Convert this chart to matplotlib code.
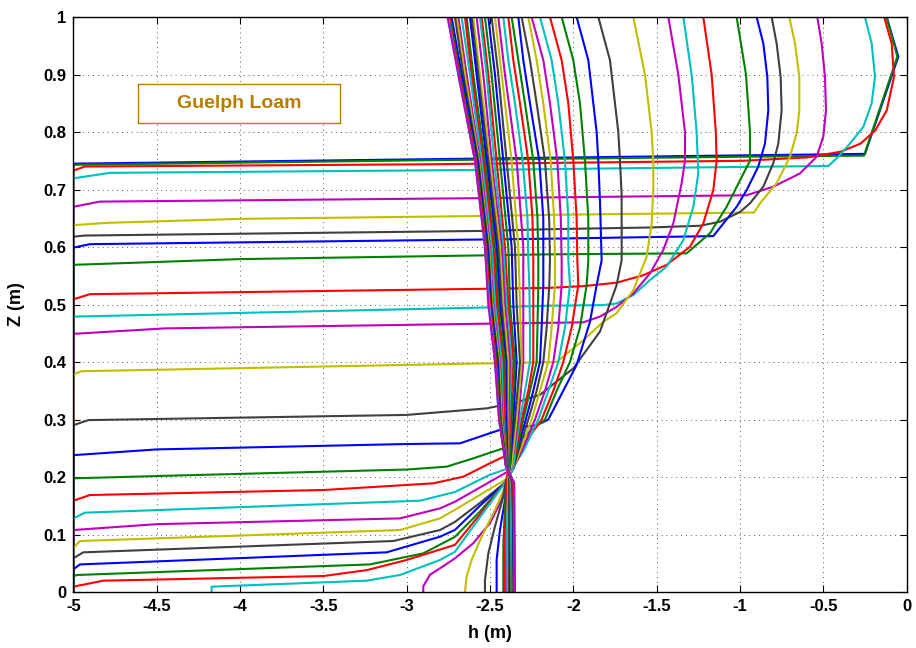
import matplotlib
matplotlib.use('Agg')
import matplotlib.pyplot as plt
from matplotlib.patches import Rectangle

plt.rcParams['font.family'] = ['Liberation Sans', 'DejaVu Sans']
plt.rcParams['axes.unicode_minus'] = False

# MATLAB (pre-2014) colour order: b g r c m y k
line_colors = [(0, 0, 1), (0, 0.5, 0), (1, 0, 0), (0, 0.75, 0.75),
               (0.75, 0, 0.75), (0.75, 0.75, 0), (0.25, 0.25, 0.25)]

x_ticks = [-5, -4.5, -4, -3.5, -3, -2.5, -2, -1.5, -1, -0.5, 0]
x_tick_labels = ['-5', '-4.5', '-4', '-3.5', '-3', '-2.5', '-2', '-1.5', '-1', '-0.5', '0']
y_ticks = [0, 0.1, 0.2, 0.3, 0.4, 0.5, 0.6, 0.7, 0.8, 0.9, 1]
y_tick_labels = ['0', '0.1', '0.2', '0.3', '0.4', '0.5', '0.6', '0.7', '0.8', '0.9', '1']

# profiles with a wetting front (curves 1..25): pressure head h (m) vs elevation z (m)
front_h = [
    [-0.12, -0.05, -0.25, -2.8, -5, -5],
    [-0.12, -0.056, -0.256, -1.0, -2.86, -5, -5],
    [-0.135, -0.09, -0.076, -0.119, -0.188, -0.276, -0.394, -0.59, -0.98, -2.84, -4.93, -5, -5],
    [-0.25, -0.21, -0.19, -0.21, -0.26, -0.34, -0.41, -0.47, -2.6, -4.78, -5, -5],
    [-0.536, -0.51, -0.49, -0.484, -0.50, -0.54, -0.64, -0.80, -0.96, -2.56, -4.84, -5, -5],
    [-0.704, -0.67, -0.644, -0.644, -0.66, -0.70, -0.78, -0.88, -0.916, -2.14, -2.54, -4.0, -4.8, -5, -5],
    [-0.81, -0.78, -0.756, -0.75, -0.77, -0.80, -0.86, -0.94, -1.0, -1.12, -1.24, -1.54, -2.14, -2.55, -4.93, -5, -5],
    [-0.90, -0.86, -0.836, -0.83, -0.85, -0.89, -0.96, -1.02, -1.16, -2.14, -4.9, -5, -5],
    [-1.02, -0.964, -0.94, -0.94, -1.0, -1.08, -1.18, -1.32, -2.14, -4.0, -5, -5],
    [-1.22, -1.17, -1.145, -1.14, -1.16, -1.22, -1.30, -1.44, -1.58, -1.74, -1.94, -2.14, -2.5, -4.9, -5, -5],
    [-1.34, -1.29, -1.26, -1.25, -1.28, -1.34, -1.44, -1.54, -1.64, -1.74, -1.82, -2.14, -2.5, -5, -5],
    [-1.43, -1.37, -1.33, -1.33, -1.35, -1.40, -1.46, -1.54, -1.64, -1.74, -1.84, -1.94, -2.45, -4.45, -5, -5],
    [-1.64, -1.57, -1.53, -1.52, -1.52, -1.53, -1.56, -1.64, -1.74, -1.82, -1.94, -2.10, -2.46, -4.95, -5, -5],
    [-1.85, -1.78, -1.73, -1.72, -1.71, -1.71, -1.74, -1.84, -2.0, -2.20, -2.36, -2.45, -2.52, -3.0, -4.91, -5, -5],
    [-1.98, -1.91, -1.86, -1.85, -1.84, -1.83, -1.86, -1.90, -1.98, -2.15, -2.22, -2.43, -2.68, -3.0, -4.5, -5, -5],
    [-2.07, -2.0, -1.96, -1.93, -1.91, -1.91, -1.92, -1.96, -2.02, -2.10, -2.17, -2.30, -2.42, -2.6, -2.76, -3.0, -4.5, -5, -5],
    [-2.14, -2.07, -2.03, -2.0, -1.98, -1.976, -1.97, -2.01, -2.06, -2.12, -2.19, -2.30, -2.42, -2.5, -2.66, -2.84, -3.5, -4.9, -5, -5],
    [-2.20, -2.13, -2.09, -2.05, -2.03, -2.03, -2.02, -2.05, -2.09, -2.15, -2.21, -2.30, -2.36, -2.42, -2.5, -2.71, -2.92, -4.93, -5, -5],
    [-2.25, -2.18, -2.14, -2.096, -2.075, -2.07, -2.07, -2.09, -2.12, -2.17, -2.23, -2.31, -2.36, -2.42, -2.71, -2.8, -3.04, -4.5, -5, -5],
    [-2.27, -2.22, -2.18, -2.136, -2.115, -2.11, -2.11, -2.13, -2.15, -2.20, -2.25, -2.32, -2.36, -2.41, -2.71, -2.8, -3.04, -4.96, -5, -5],
    [-2.31, -2.26, -2.22, -2.17, -2.145, -2.14, -2.144, -2.16, -2.18, -2.22, -2.27, -2.33, -2.36, -2.41, -2.56, -2.71, -2.8, -3.08, -4.94, -5, -5],
    [-2.33, -2.30, -2.26, -2.204, -2.18, -2.18, -2.18, -2.19, -2.20, -2.24, -2.285, -2.34, -2.36, -2.41, -2.56, -2.71, -2.8, -3.12, -4.96, -5, -5],
    [-2.37, -2.33, -2.29, -2.24, -2.215, -2.21, -2.21, -2.215, -2.22, -2.26, -2.30, -2.34, -2.36, -2.41, -2.56, -2.71, -2.9, -3.22, -4.98, -5, -5],
    [-2.39, -2.36, -2.32, -2.27, -2.245, -2.24, -2.24, -2.24, -2.24, -2.27, -2.31, -2.345, -2.36, -2.41, -2.56, -2.71, -3.0, -3.24, -3.5, -4.82, -5, -5],
    [-2.42, -2.39, -2.35, -2.304, -2.275, -2.27, -2.264, -2.26, -2.26, -2.29, -2.32, -2.35, -2.36, -2.41, -2.56, -2.71, -2.8, -3.04, -3.24, -4.17, -4.17],
]
front_z = [
    [1.0, 0.931, 0.762, 0.753, 0.745, 0.0],
    [1.0, 0.931, 0.759, 0.757, 0.751, 0.743, 0.0],
    [1.0, 0.954, 0.896, 0.838, 0.803, 0.78, 0.766, 0.756, 0.75, 0.744, 0.740, 0.733, 0.0],
    [1.0, 0.954, 0.896, 0.85, 0.809, 0.78, 0.757, 0.741, 0.734, 0.729, 0.7195, 0.0],
    [1.0, 0.954, 0.896, 0.838, 0.792, 0.757, 0.728, 0.705, 0.69, 0.685, 0.679, 0.670, 0.0],
    [1.0, 0.954, 0.896, 0.838, 0.798, 0.757, 0.711, 0.676, 0.66, 0.656, 0.654, 0.649, 0.642, 0.638, 0.0],
    [1.0, 0.954, 0.896, 0.838, 0.78, 0.746, 0.705, 0.676, 0.661, 0.644, 0.637, 0.634, 0.631, 0.628, 0.62, 0.618, 0.0],
    [1.0, 0.954, 0.896, 0.838, 0.78, 0.74, 0.699, 0.67, 0.619, 0.6145, 0.605, 0.599, 0.0],
    [1.0, 0.9, 0.8, 0.75, 0.716, 0.67, 0.624, 0.589, 0.5873, 0.579, 0.569, 0.0],
    [1.0, 0.9, 0.8, 0.75, 0.699, 0.641, 0.6005, 0.569, 0.551, 0.538, 0.532, 0.529, 0.5275, 0.518, 0.509, 0.0],
    [1.0, 0.9, 0.8, 0.728, 0.67, 0.612, 0.566, 0.5426, 0.5165, 0.502, 0.499, 0.498, 0.495, 0.479, 0.0],
    [1.0, 0.9, 0.8, 0.75, 0.711, 0.641, 0.595, 0.554, 0.5194, 0.496, 0.479, 0.469, 0.467, 0.4585, 0.449, 0.0],
    [1.0, 0.9, 0.8, 0.75, 0.7, 0.641, 0.583, 0.525, 0.485, 0.47, 0.438, 0.40, 0.398, 0.384, 0.3786, 0.0],
    [1.0, 0.925, 0.8, 0.75, 0.69, 0.577, 0.534, 0.453, 0.389, 0.343, 0.328, 0.3235, 0.3194, 0.308, 0.299, 0.29, 0.0],
    [1.0, 0.925, 0.8, 0.75, 0.68, 0.577, 0.534, 0.47, 0.395, 0.3, 0.29, 0.283, 0.2586, 0.2574, 0.248, 0.238, 0.0],
    [1.0, 0.925, 0.85, 0.75, 0.65, 0.577, 0.534, 0.46, 0.4, 0.35, 0.3, 0.27, 0.25, 0.2325, 0.218, 0.213, 0.2017, 0.1977, 0.0],
    [1.0, 0.925, 0.85, 0.75, 0.65, 0.577, 0.534, 0.46, 0.4, 0.35, 0.3, 0.255, 0.235, 0.224, 0.2006, 0.189, 0.1774, 0.1687, 0.1588, 0.0],
    [1.0, 0.925, 0.85, 0.75, 0.65, 0.577, 0.534, 0.46, 0.4, 0.35, 0.3, 0.245, 0.218, 0.212, 0.204, 0.174, 0.1588, 0.138, 0.128, 0.0],
    [1.0, 0.925, 0.85, 0.75, 0.65, 0.577, 0.534, 0.46, 0.4, 0.35, 0.3, 0.245, 0.215, 0.205, 0.157, 0.1455, 0.128, 0.118, 0.1078, 0.0],
    [1.0, 0.925, 0.85, 0.75, 0.65, 0.577, 0.534, 0.46, 0.4, 0.35, 0.3, 0.245, 0.215, 0.195, 0.143, 0.128, 0.1078, 0.0887, 0.076, 0.0],
    [1.0, 0.925, 0.85, 0.75, 0.65, 0.577, 0.534, 0.46, 0.4, 0.35, 0.3, 0.245, 0.215, 0.19, 0.155, 0.122, 0.1078, 0.0887, 0.069, 0.0586, 0.0],
    [1.0, 0.925, 0.85, 0.75, 0.65, 0.577, 0.534, 0.46, 0.4, 0.35, 0.3, 0.245, 0.215, 0.19, 0.15, 0.108, 0.0962, 0.069, 0.048, 0.0394, 0.0],
    [1.0, 0.925, 0.85, 0.75, 0.65, 0.577, 0.534, 0.46, 0.4, 0.35, 0.3, 0.245, 0.215, 0.19, 0.14, 0.096, 0.0672, 0.048, 0.0296, 0.0267, 0.0],
    [1.0, 0.925, 0.85, 0.75, 0.65, 0.577, 0.534, 0.46, 0.4, 0.35, 0.3, 0.245, 0.215, 0.19, 0.135, 0.082, 0.0557, 0.038, 0.0278, 0.0197, 0.0093, 0.0],
    [1.0, 0.925, 0.85, 0.75, 0.65, 0.577, 0.534, 0.46, 0.4, 0.35, 0.3, 0.245, 0.215, 0.19, 0.13, 0.07, 0.0557, 0.0296, 0.0197, 0.0093, 0.0],
]

# late profiles (curves 26..47): upper part on shared elevations
late_top_z = [1.0, 0.9, 0.75, 0.6, 0.5, 0.4, 0.3, 0.22]
late_top_h = [
    [-2.45, -2.41, -2.34, -2.30, -2.30, -2.30, -2.33, -2.37],
    [-2.47, -2.43, -2.37, -2.33, -2.32, -2.31, -2.34, -2.37],
    [-2.49, -2.45, -2.40, -2.35, -2.34, -2.32, -2.35, -2.38],
    [-2.51, -2.47, -2.42, -2.37, -2.36, -2.34, -2.36, -2.38],
    [-2.53, -2.49, -2.44, -2.39, -2.38, -2.35, -2.37, -2.38],
    [-2.55, -2.51, -2.46, -2.41, -2.39, -2.36, -2.38, -2.39],
    [-2.56, -2.52, -2.475, -2.42, -2.40, -2.37, -2.385, -2.39],
    [-2.58, -2.54, -2.49, -2.43, -2.41, -2.38, -2.39, -2.39],
    [-2.60, -2.56, -2.50, -2.44, -2.42, -2.39, -2.395, -2.395],
    [-2.61, -2.57, -2.51, -2.45, -2.43, -2.40, -2.40, -2.395],
    [-2.62, -2.58, -2.52, -2.46, -2.44, -2.405, -2.405, -2.395],
    [-2.64, -2.60, -2.53, -2.47, -2.45, -2.41, -2.41, -2.395],
    [-2.65, -2.61, -2.54, -2.48, -2.46, -2.42, -2.415, -2.40],
    [-2.67, -2.62, -2.55, -2.49, -2.47, -2.43, -2.42, -2.40],
    [-2.69, -2.64, -2.56, -2.50, -2.48, -2.44, -2.425, -2.40],
    [-2.70, -2.65, -2.565, -2.505, -2.485, -2.445, -2.43, -2.40],
    [-2.71, -2.66, -2.57, -2.51, -2.49, -2.45, -2.435, -2.40],
    [-2.73, -2.67, -2.575, -2.515, -2.495, -2.455, -2.44, -2.405],
    [-2.74, -2.68, -2.58, -2.52, -2.50, -2.46, -2.44, -2.405],
    [-2.745, -2.685, -2.585, -2.525, -2.50, -2.465, -2.445, -2.405],
    [-2.75, -2.69, -2.59, -2.53, -2.505, -2.47, -2.445, -2.405],
    [-2.755, -2.69, -2.59, -2.53, -2.51, -2.47, -2.445, -2.405],
]
# late profiles: lower part below the crossing
late_low_h = [
    [-2.40, -2.43, -2.50, -2.60, -2.71, -2.78, -2.86, -2.90, -2.90],
    [-2.41, -2.47, -2.55, -2.61, -2.64, -2.65],
    [-2.41, -2.42, -2.47, -2.51, -2.53, -2.53],
    [-2.40, -2.41, -2.44, -2.46, -2.46],
    [-2.40, -2.41, -2.42, -2.42],
    [-2.40, -2.41, -2.41],
    [-2.39, -2.40, -2.40],
    [-2.39, -2.395],
    [-2.39, -2.39],
    [-2.385, -2.385],
    [-2.38, -2.38],
    [-2.38, -2.375],
    [-2.375, -2.37],
    [-2.375, -2.37],
    [-2.37, -2.365],
    [-2.37, -2.36],
    [-2.365, -2.36],
    [-2.365, -2.355],
    [-2.36, -2.355],
    [-2.36, -2.35],
    [-2.355, -2.35],
    [-2.355, -2.35],
]
late_low_z = [
    [0.19, 0.16, 0.12, 0.085, 0.0586, 0.045, 0.03, 0.01, 0.0],
    [0.183, 0.143, 0.096, 0.056, 0.027, 0.0],
    [0.185, 0.166, 0.114, 0.067, 0.021, 0.0],
    [0.185, 0.16, 0.108, 0.056, 0.0],
    [0.19, 0.15, 0.08, 0.0],
    [0.19, 0.1, 0.0],
    [0.19, 0.1, 0.0],
    [0.19, 0.0],
    [0.19, 0.0],
    [0.19, 0.0],
    [0.19, 0.0],
    [0.19, 0.0],
    [0.19, 0.0],
    [0.19, 0.0],
    [0.19, 0.0],
    [0.19, 0.0],
    [0.19, 0.0],
    [0.19, 0.0],
    [0.19, 0.0],
    [0.19, 0.0],
    [0.19, 0.0],
    [0.19, 0.0],
]

label_text = 'Guelph Loam'
label_box = [-4.61, 0.816, 1.21, 0.0675]   # x, y, width, height in data units
label_color = (0.72, 0.49, 0.0)

fig = plt.figure(figsize=(9.16, 6.48), dpi=100)
ax = fig.add_axes([0.0800, 0.0864, 0.9098, 0.8873])

k = 0
for h, z in zip(front_h, front_z):
    ax.plot(h, z, color=line_colors[k % 7], lw=1.5)
    k += 1
for ht, hl, zl in zip(late_top_h, late_low_h, late_low_z):
    ax.plot(ht + hl, late_top_z + zl, color=line_colors[k % 7], lw=1.5)
    k += 1

ax.set_xlim(-5, 0)
ax.set_ylim(0, 1)
ax.set_xticks(x_ticks)
ax.set_xticklabels(x_tick_labels)
ax.set_yticks(y_ticks)
ax.set_yticklabels(y_tick_labels)
ax.grid(True, linestyle=(0, (1, 4)), color='0.35', lw=0.7)
ax.set_axisbelow(True)
ax.tick_params(direction='in', top=True, right=True, length=5, width=0.8,
               labelsize=12, pad=5)
for lab in ax.get_xticklabels() + ax.get_yticklabels():
    lab.set_fontweight('bold')
for s in ax.spines.values():
    s.set_linewidth(1.0)

ax.set_xlabel('h (m)', fontsize=13, fontweight='bold', labelpad=8)
ax.set_ylabel('Z (m)', fontsize=13, fontweight='bold', labelpad=13)

bx, by, bw, bh = label_box
ax.add_patch(Rectangle((bx, by), bw, bh, facecolor='white', edgecolor=label_color,
                       lw=1.0, zorder=5))
ax.text(bx + bw / 2, by + bh / 2, label_text, color=label_color, fontsize=14,
        fontweight='bold', ha='center', va='center', zorder=6)

fig.savefig('out.png', dpi=100)
